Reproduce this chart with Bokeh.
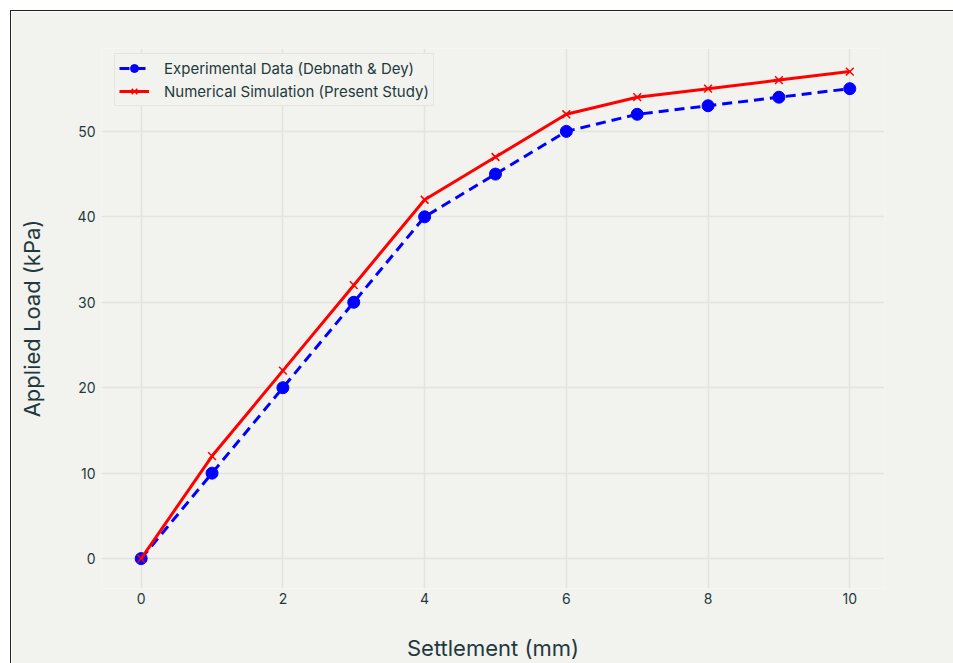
from bokeh.plotting import figure
from bokeh.models import FixedTicker, Legend, LegendItem, Range1d
from bokeh.embed import file_html
from bokeh.resources import INLINE

settlement = [0, 1, 2, 3, 4, 5, 6, 7, 8, 9, 10]
experimental = [0, 10, 20, 30, 40, 45, 50, 52, 53, 54, 55]
numerical = [0, 12, 22, 32, 42, 47, 52, 54, 55, 56, 57]
exp_label = "Experimental Data (Debnath & Dey)"
num_label = "Numerical Simulation (Present Study)"
x_ticks = [0, 2, 4, 6, 8, 10]
y_ticks = [0, 10, 20, 30, 40, 50]

BG = "#f2f2ee"
GRID = "#e4e4de"
TXT = "#1f3a3d"
FONT = "Inter"

p = figure(width=943, height=653, output_backend="svg", toolbar_location=None,
           x_range=Range1d(-0.56, 10.49), y_range=Range1d(-3.5, 59.7),
           min_border_left=90, min_border_right=70, min_border_top=37, min_border_bottom=76)
p.margin = (10, 0, 0, 10)
p.styles = {"border-top": "1.5px solid #222222", "border-left": "1.5px solid #222222"}
p.border_fill_color = BG
p.background_fill_color = BG
p.outline_line_color = None

for ax in (p.xaxis, p.yaxis):
    ax.axis_line_color = None
    ax.major_tick_line_color = None
    ax.minor_tick_line_color = None
    ax.major_tick_out = 0
    ax.major_tick_in = 0
    ax.minor_tick_out = 0
    ax.minor_tick_in = 0
    ax.major_label_text_font = FONT
    ax.major_label_text_font_size = "14px"
    ax.major_label_text_color = TXT
    ax.axis_label_text_font = FONT
    ax.axis_label_text_font_size = "22px"
    ax.axis_label_text_font_style = "normal"
    ax.axis_label_text_color = TXT

p.xaxis.ticker = FixedTicker(ticks=x_ticks)
p.yaxis.ticker = FixedTicker(ticks=y_ticks)
p.xaxis.axis_label = "Settlement (mm)"
p.yaxis.axis_label = "Applied Load (kPa)"
p.xaxis.major_label_standoff = 4
p.yaxis.major_label_standoff = 6
p.xaxis.axis_label_standoff = 28
p.yaxis.axis_label_standoff = 30

p.xgrid.ticker = FixedTicker(ticks=x_ticks)
p.ygrid.ticker = FixedTicker(ticks=y_ticks)
p.grid.grid_line_color = GRID
p.grid.grid_line_width = 1.5

l1 = p.line(settlement, experimental, line_color="blue", line_width=3, line_dash="10 6")
c1 = p.scatter(settlement, experimental, marker="circle", size=12, fill_color="blue", line_color="blue")
l2 = p.line(settlement, numerical, line_color="red", line_width=3)
c2 = p.scatter(settlement, numerical, marker="x", size=11, line_color="red", line_width=1.5)

legend = Legend(items=[LegendItem(label=exp_label, renderers=[l1, c1]),
                       LegendItem(label=num_label, renderers=[l2, c2])],
                location=(13, 482), margin=0, padding=4, spacing=3,
                glyph_width=30, glyph_height=20, label_height=20, label_standoff=15,
                label_text_font=FONT, label_text_font_size="15px", label_text_color=TXT,
                background_fill_color=BG, background_fill_alpha=1,
                border_line_color="#d8d8d4", border_line_width=1.5)
p.add_layout(legend, "center")

open("out.html", "w").write(file_html(p, INLINE))
